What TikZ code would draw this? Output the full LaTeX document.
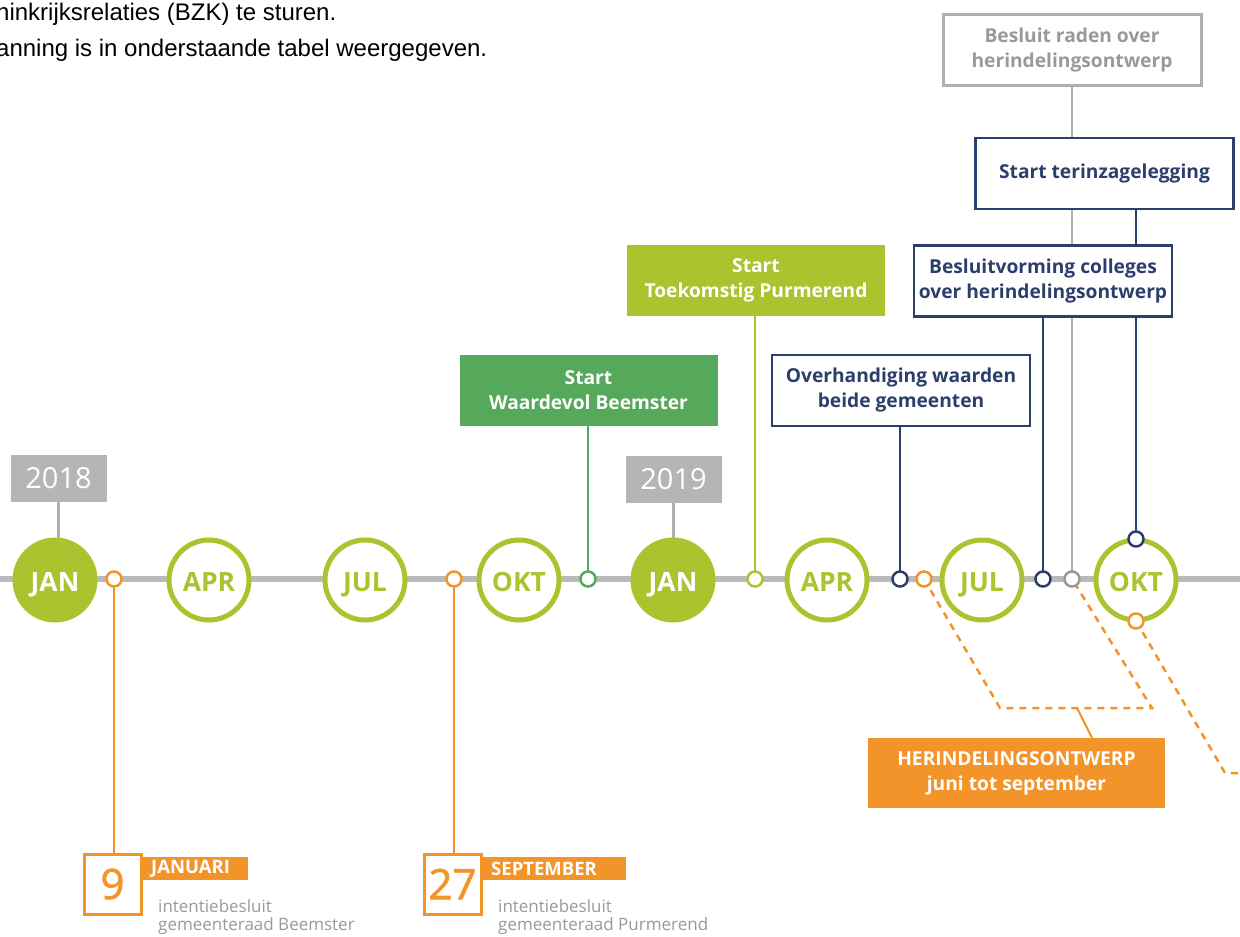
\documentclass[tikz,border=0pt]{standalone}
\usepackage{fontspec}
\setmainfont{Open Sans}
\newfontfamily\helv{Liberation Sans}
\newfontfamily\numfont[FakeBold=1.5]{Open Sans}
\definecolor{lime}{HTML}{A9C42E}
\definecolor{gbox}{HTML}{56A85B}
\definecolor{navy}{HTML}{2C3F6C}
\definecolor{orng}{HTML}{F2942A}
\definecolor{tline}{HTML}{BABABA}
\definecolor{gline}{HTML}{B0B0B0}
\definecolor{gtext}{HTML}{999999}
\definecolor{ybox}{HTML}{B5B5B5}
\begin{document}
\begin{tikzpicture}[x=1pt,y=-1pt,
  month/.style={circle, draw=lime, line width=5pt, fill=white, minimum size=80pt, inner sep=0pt,
    text height=23pt, text depth=0pt,
    font=\bfseries\fontsize{26.5}{26.5}\selectfont, text=lime},
  monthfill/.style={month, fill=lime, text=white},
  dot/.style={circle, draw=#1, line width=2.5pt, fill=white, minimum size=15pt, inner sep=0pt},
  yearbox/.style={fill=ybox, text=white, minimum width=96pt, minimum height=47pt, inner sep=0pt,
    font=\fontsize{29}{29}\selectfont},
  evbox/.style={minimum width=258pt, minimum height=71pt, inner sep=0pt, align=center,
    font=\bfseries\fontsize{19.2}{25}\selectfont},
  navybox/.style={evbox, draw=navy, line width=2.5pt, fill=white, text=navy},
  conn/.style={line width=2.5pt},
  daybox/.style={draw=orng, line width=3pt, fill=white, text=orng, minimum width=57pt, minimum height=60pt,
    inner sep=0pt, font=\numfont\fontsize{42}{42}\selectfont},
  monthlab/.style={fill=orng, text=white, minimum height=23pt, inner sep=0pt, anchor=west,
    font=\bfseries\fontsize{18.5}{18.5}\selectfont},
  small/.style={text=gtext, anchor=base west, inner sep=0pt, font=\fontsize{17}{17}\selectfont},
  odash/.style={draw=orng, line width=2.5pt, dash pattern=on 7pt off 6pt}
]
\useasboundingbox (0,0) rectangle (1240,937);
\clip (0,0) rectangle (1240,937);

% body text
\node[anchor=base west, inner sep=0pt, font=\helv\fontsize{24}{24}\selectfont] (t1) at (-4,20) {ninkrijksrelaties (BZK) te sturen.};
\node[anchor=base west, inner sep=0pt, font=\helv\fontsize{24}{24}\selectfont] (t2) at (-4,56) {anning is in onderstaande tabel weergegeven.};

% timeline
\draw[tline, line width=6pt] (0,579) coordinate (tl) -- (1240,579) coordinate (tr);

% coordinates of dots
\coordinate (c1) at (114,579);
\coordinate (c2) at (454,579);
\coordinate (c3) at (588,579);
\coordinate (c4) at (755,579);
\coordinate (c5) at (900,579);
\coordinate (c6) at (924,579);
\coordinate (c7) at (1043,579);
\coordinate (c8) at (1072,579);
\coordinate (c9) at (1136,539);
\coordinate (c10) at (1136,621);

% year boxes
\node[yearbox] (y18) at (58.5,478.5) {2018};
\node[yearbox] (y19) at (673.5,479) {2019};

% connectors behind boxes
\draw[gline, conn] (1072,86) coordinate (br) -- (c8);
\draw[navy, conn] (1136,209) coordinate (tz) -- (c9);
\draw[navy, conn] (1043,317) coordinate (bv) -- (c7);
\draw[navy, conn] (900,426) coordinate (ov) -- (c5);
\draw[gbox, conn] (588,425) coordinate (wb) -- (c3);
\draw[lime, conn] (755,316) coordinate (tp) -- (c4);
\draw[gline, line width=3pt] (y18.south) -- ++(0,40);
\draw[gline, line width=3pt] (y19.south) -- ++(0,40);
\draw[orng, conn] (c1) -- (114,853) coordinate (d9top);
\draw[orng, conn] (c2) -- (454,853) coordinate (d27top);

% dashed orange
\draw[odash] (c6) -- (1000,708) coordinate (p1) -- (1152,708) coordinate (p2) -- (c8);
\draw[odash] (c10) -- (1225,773) coordinate (p3) -- (1245,773);
\draw[orng, line width=2pt] (1077,708) coordinate (pm) -- (1092,738) coordinate (hb);

% event boxes
\node[evbox, fill=gbox, text=white] (waard) at (588.5,390) {Start\\Waardevol Beemster};
\node[evbox, fill=lime, text=white] (toek) at (756,280.5) {Start\\Toekomstig Purmerend};
\node[navybox] (overh) at (901,390.5) {Overhandiging waarden\\beide gemeenten};
\node[navybox] (besl) at (1043,281) {Besluitvorming colleges\\over herindelingsontwerp};
\node[navybox] (terin) at (1104.5,173.5) {Start terinzagelegging};
\node[evbox, draw=gline, line width=3pt, fill=white, text=gtext] (raden) at (1072,50) {Besluit raden over\\herindelingsontwerp};
\node[evbox, fill=orng, text=white, minimum width=297pt, minimum height=70pt] (herin) at (1016.5,773) {HERINDELINGSONTWERP\\juni tot september};

% months
\node[monthfill] (jan1) at (55,580) {JAN};
\node[month] (apr1) at (209,580) {APR};
\node[month] (jul1) at (365,580) {JUL};
\node[month] (okt1) at (519,580) {OKT};
\node[monthfill] (jan2) at (673,580) {JAN};
\node[month] (apr2) at (827,580) {APR};
\node[month] (jul2) at (982,580) {JUL};
\node[month] (okt2) at (1136,580) {OKT};

% dots
\node[dot=orng] (d1) at (c1) {};
\node[dot=orng] (d2) at (c2) {};
\node[dot=gbox] (d3) at (c3) {};
\node[dot=lime] (d4) at (c4) {};
\node[dot=navy] (d5) at (c5) {};
\node[dot=orng] (d6) at (c6) {};
\node[dot=navy] (d7) at (c7) {};
\node[dot=gtext] (d8) at (c8) {};
\node[dot=navy] (d9) at (c9) {};
\node[dot=orng] (d10) at (c10) {};

% date labels
\node[daybox] (day9) at (112.5,884) {9};
\node[monthlab, text width=106pt] (jan) at (142,868.5) {\hspace*{9pt}JANUARI};
\node[small] (s1) at (158,912) {intentiebesluit};
\node[small] (s2) at (158,930) {gemeenteraad Beemster};

\node[daybox] (day27) at (452.5,884) {27};
\node[monthlab, text width=144pt] (sep) at (482,868.5) {\hspace*{9pt}SEPTEMBER};
\node[small] (s3) at (498,912) {intentiebesluit};
\node[small] (s4) at (498,930) {gemeenteraad Purmerend};
\end{tikzpicture}
\end{document}
